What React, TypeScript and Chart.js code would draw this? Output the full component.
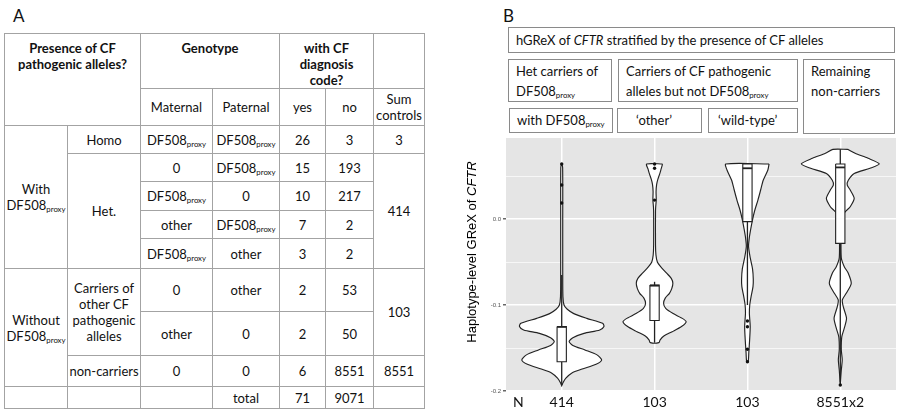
import React, { useEffect, useRef } from "react";
import { Chart, registerables } from "chart.js";
Chart.register(...registerables);

// ---------- data ----------
const groupLabels = ["414", "103", "103", "8551x2"];
const groupPositions = [1, 2, 3, 4];
const yTickValues = [-0.2, -0.15, -0.1, -0.05, 0, 0.05];
const yMajorTicks = [-0.2, -0.1, 0];

// violin outlines: y values and half-widths (in category units)
const violin1Y = [0.065, 0.06, 0.0, -0.06, -0.09, -0.1, -0.105, -0.11, -0.1155, -0.1213, -0.125, -0.129, -0.133, -0.138, -0.1425, -0.147, -0.1523, -0.158, -0.164, -0.169, -0.1745, -0.179, -0.185, -0.19, -0.194];
const violin1W = [0.0, 0.01, 0.011, 0.011, 0.013, 0.025, 0.06, 0.13, 0.27, 0.44, 0.455, 0.41, 0.24, 0.12, 0.08, 0.12, 0.25, 0.38, 0.43, 0.37, 0.22, 0.11, 0.045, 0.015, 0.0];

const violin2Y = [0.064, 0.058, 0.053, 0.046, 0.04, 0.032, 0.022, 0.014, 0.008, -0.03, -0.042, -0.05, -0.0554, -0.063, -0.069, -0.0748, -0.081, -0.0864, -0.092, -0.098, -0.104, -0.11, -0.115, -0.1194, -0.125, -0.131, -0.136, -0.1405, -0.1438];
const violin2W = [0.086, 0.07, 0.057, 0.035, 0.022, 0.016, 0.018, 0.012, 0.01, 0.01, 0.015, 0.03, 0.065, 0.13, 0.18, 0.197, 0.185, 0.16, 0.115, 0.097, 0.12, 0.2, 0.29, 0.34, 0.29, 0.19, 0.1, 0.06, 0.046];

const violin3Y = [0.064, 0.057, 0.045, 0.034, 0.022, 0.0105, -0.0012, -0.0115, -0.022, -0.032, -0.045, -0.058, -0.07, -0.0787, -0.09, -0.1, -0.1097, -0.125, -0.14, -0.155, -0.166];
const violin3W = [0.233, 0.22, 0.17, 0.143, 0.113, 0.08, 0.054, 0.036, 0.02, 0.012, 0.03, 0.055, 0.063, 0.06, 0.04, 0.025, 0.021, 0.03, 0.024, 0.015, 0.008];

const violin4Y = [0.081, 0.0764, 0.0706, 0.064, 0.059, 0.053, 0.045, 0.0395, 0.0337, 0.024, 0.0143, 0.0085, 0.0027, -0.01, -0.045, -0.0554, -0.063, -0.075, -0.0864, -0.094, -0.102, -0.1155, -0.127, -0.137, -0.152, -0.164, -0.1756, -0.193];
const violin4W = [0.08, 0.16, 0.3, 0.42, 0.32, 0.15, 0.086, 0.075, 0.107, 0.15, 0.107, 0.054, 0.022, 0.011, 0.011, 0.043, 0.086, 0.118, 0.064, 0.022, 0.032, 0.067, 0.043, 0.016, 0.011, 0.021, 0.011, 0.0];

// box plot statistics
const boxQ1 = [-0.166, -0.118, -0.003, -0.0283];
const boxMedian = [-0.1255, -0.0775, 0.059, 0.06];
const boxQ3 = [-0.125, -0.0767, 0.064, 0.064];
const whiskerLow = [-0.193, -0.1438, -0.1, -0.19];
const whiskerHigh = [-0.065, -0.073, 0.064, 0.081];
const outliers1 = [0.064, 0.0395, 0.0186];
const outliers2 = [0.064, 0.059, 0.022];
const outliers3 = [-0.1186, -0.1252, -0.1515, -0.166];
const outliers4 = [-0.193];

const violinYs = [violin1Y, violin2Y, violin3Y, violin4Y];
const violinWs = [violin1W, violin2W, violin3W, violin4W];
const outlierSets = [outliers1, outliers2, outliers3, outliers4];
const boxHalfWidth = 0.05;

// ---------- chart ----------
function violinPolygon(c: number, ys: number[], ws: number[]) {
  const right = ys.map((y, i) => ({ x: c + ws[i], y }));
  const left = ys.map((y, i) => ({ x: c - ws[i], y })).reverse();
  return [...right, ...left, right[0]];
}

const bgPlugin = {
  id: "panelBg",
  beforeDraw(chart: any) {
    const { ctx, chartArea } = chart;
    ctx.save();
    ctx.fillStyle = "#e5e5e5";
    ctx.fillRect(chartArea.left, chartArea.top, chartArea.right - chartArea.left, chartArea.bottom - chartArea.top);
    ctx.restore();
  },
};

const isMajor = (v: number) => yMajorTicks.some((m) => Math.abs(m - v) < 1e-9);

function ViolinChart() {
  const ref = useRef<HTMLCanvasElement | null>(null);
  useEffect(() => {
    if (!ref.current) return;
    const stroke = "#222222";
    const datasets: any[] = [];
    groupPositions.forEach((c, i) => {
      datasets.push({
        data: violinPolygon(c, violinYs[i], violinWs[i]),
        showLine: true, pointRadius: 0, borderColor: stroke, borderWidth: 1.15,
        backgroundColor: "#ffffff", fill: "shape", tension: 0.25, order: 5,
      });
    });
    groupPositions.forEach((c, i) => {
      datasets.push({
        data: [{ x: c, y: boxQ3[i] }, { x: c, y: whiskerHigh[i] }],
        showLine: true, pointRadius: 0, borderColor: stroke, borderWidth: 1.3, fill: false, order: 4,
      });
      datasets.push({
        data: [{ x: c, y: boxQ1[i] }, { x: c, y: whiskerLow[i] }],
        showLine: true, pointRadius: 0, borderColor: stroke, borderWidth: 1.3, fill: false, order: 4,
      });
    });
    groupPositions.forEach((c, i) => {
      const w = boxHalfWidth;
      datasets.push({
        data: [
          { x: c - w, y: boxQ3[i] }, { x: c + w, y: boxQ3[i] },
          { x: c + w, y: boxQ1[i] }, { x: c - w, y: boxQ1[i] }, { x: c - w, y: boxQ3[i] },
        ],
        showLine: true, pointRadius: 0, borderColor: stroke, borderWidth: 1.1,
        backgroundColor: "#ffffff", fill: "shape", tension: 0, order: 3,
      });
      datasets.push({
        data: [{ x: c - w, y: boxMedian[i] }, { x: c + w, y: boxMedian[i] }],
        showLine: true, pointRadius: 0, borderColor: stroke, borderWidth: 1.8, fill: false, order: 2,
      });
    });
    const pts: any[] = [];
    groupPositions.forEach((c, i) => outlierSets[i].forEach((y) => pts.push({ x: c, y })));
    datasets.push({
      data: pts, showLine: false, pointRadius: 1.7, pointBackgroundColor: "#111",
      pointBorderWidth: 0, order: 1,
    });

    const chart = new Chart(ref.current, {
      type: "scatter",
      data: { datasets },
      plugins: [bgPlugin],
      options: {
        animation: false,
        responsive: false,
        devicePixelRatio: 1,
        layout: { padding: { top: 10, right: 3, left: 0, bottom: 0 } },
        plugins: { legend: { display: false }, tooltip: { enabled: false } },
        scales: {
          x: {
            type: "linear", min: 0.4, max: 4.6,
            afterBuildTicks: (axis: any) => { axis.ticks = groupPositions.map((v) => ({ value: v })); },
            afterFit: (axis: any) => { axis.height = 22; },
            ticks: {
              callback: (v: any) => groupLabels[Math.round(v) - 1] ?? "",
              font: { family: "Lato", size: 14 }, color: "#111", padding: 3, maxRotation: 0,
            },
            grid: { color: "#ffffff", lineWidth: 1.5, drawTicks: false },
            border: { display: false },
          },
          y: {
            type: "linear", min: -0.2, max: 0.0942,
            afterBuildTicks: (axis: any) => { axis.ticks = yTickValues.map((v) => ({ value: v })); },
            afterFit: (axis: any) => { axis.width = 66; },
            ticks: {
              callback: (v: any) => (isMajor(Number(v)) ? Number(v).toFixed(1) : ""),
              font: { family: "Liberation Sans", size: 6 }, color: "#555", padding: 2,
            },
            grid: {
              color: "#ffffff",
              lineWidth: (ctx: any) => (isMajor(ctx.tick?.value) ? 1.5 : 0.7),
              tickLength: 3,
              tickColor: (ctx: any) => (isMajor(ctx.tick?.value) ? "#666" : "rgba(0,0,0,0)"),
            },
            border: { display: false },
          },
        },
      } as any,
    });
    return () => chart.destroy();
  }, []);
  return <canvas ref={ref} width={460} height={285} style={{ position: "absolute", left: 440, top: 128, width: 460, height: 285 }} />;
}

// ---------- table ----------
const Sub = () => <sub style={{ fontSize: "0.6em", lineHeight: 0, verticalAlign: "-2px" }}>proxy</sub>;
const DF = () => <span>DF508<Sub /></span>;

const tdBase: React.CSSProperties = {
  border: "1px solid #a3a3a3", textAlign: "center", verticalAlign: "middle",
  padding: 0, fontSize: 13, lineHeight: "16px", color: "#111",
};
const thTop: React.CSSProperties = { ...tdBase, verticalAlign: "top", paddingTop: 6, fontWeight: 700 };

function Table() {
  const colW = [63, 73, 72, 67, 46, 48, 51];
  const rowH = [55, 37, 28, 28, 29, 28, 30, 43, 44, 31, 22];
  return (
    <table style={{ position: "absolute", left: 4, top: 33, width: 420, borderCollapse: "collapse", tableLayout: "fixed", fontFamily: "Lato" }}>
      <colgroup>{colW.map((w, i) => <col key={i} style={{ width: w }} />)}</colgroup>
      <tbody>
        <tr style={{ height: rowH[0] }}>
          <td style={thTop} colSpan={2} rowSpan={2}>Presence of CF<br />pathogenic alleles?</td>
          <td style={thTop} colSpan={2}>Genotype</td>
          <td style={thTop} colSpan={2}>with CF<br />diagnosis<br />code?</td>
          <td style={tdBase}></td>
        </tr>
        <tr style={{ height: rowH[1] }}>
          <td style={tdBase}>Maternal</td><td style={tdBase}>Paternal</td>
          <td style={tdBase}>yes</td><td style={tdBase}>no</td>
          <td style={tdBase}>Sum<br />controls</td>
        </tr>
        <tr style={{ height: rowH[2] }}>
          <td style={tdBase} rowSpan={5}>With<br /><DF /></td>
          <td style={tdBase}>Homo</td>
          <td style={tdBase}><DF /></td><td style={tdBase}><DF /></td>
          <td style={tdBase}>26</td><td style={tdBase}>3</td><td style={tdBase}>3</td>
        </tr>
        <tr style={{ height: rowH[3] }}>
          <td style={tdBase} rowSpan={4}>Het.</td>
          <td style={tdBase}>0</td><td style={tdBase}><DF /></td>
          <td style={tdBase}>15</td><td style={tdBase}>193</td>
          <td style={tdBase} rowSpan={4}>414</td>
        </tr>
        <tr style={{ height: rowH[4] }}>
          <td style={tdBase}><DF /></td><td style={tdBase}>0</td>
          <td style={tdBase}>10</td><td style={tdBase}>217</td>
        </tr>
        <tr style={{ height: rowH[5] }}>
          <td style={tdBase}>other</td><td style={tdBase}><DF /></td>
          <td style={tdBase}>7</td><td style={tdBase}>2</td>
        </tr>
        <tr style={{ height: rowH[6] }}>
          <td style={tdBase}><DF /></td><td style={tdBase}>other</td>
          <td style={tdBase}>3</td><td style={tdBase}>2</td>
        </tr>
        <tr style={{ height: rowH[7] }}>
          <td style={tdBase} rowSpan={3}>Without<br /><DF /></td>
          <td style={tdBase} rowSpan={2}>Carriers of<br />other CF<br />pathogenic<br />alleles</td>
          <td style={tdBase}>0</td><td style={tdBase}>other</td>
          <td style={tdBase}>2</td><td style={tdBase}>53</td>
          <td style={tdBase} rowSpan={2}>103</td>
        </tr>
        <tr style={{ height: rowH[8] }}>
          <td style={tdBase}>other</td><td style={tdBase}>0</td>
          <td style={tdBase}>2</td><td style={tdBase}>50</td>
        </tr>
        <tr style={{ height: rowH[9] }}>
          <td style={tdBase}>non-carriers</td>
          <td style={tdBase}>0</td><td style={tdBase}>0</td>
          <td style={tdBase}>6</td><td style={tdBase}>8551</td><td style={tdBase}>8551</td>
        </tr>
        <tr style={{ height: rowH[10] }}>
          <td style={tdBase}></td><td style={tdBase}></td><td style={tdBase}></td>
          <td style={tdBase}>total</td><td style={tdBase}>71</td><td style={tdBase}>9071</td>
          <td style={tdBase}></td>
        </tr>
      </tbody>
    </table>
  );
}

const boxStyle = (left: number, top: number, width: number, height: number, extra: React.CSSProperties = {}): React.CSSProperties => ({
  position: "absolute", left, top, width, height, boxSizing: "border-box",
  border: "1px solid #8a8a8a", fontSize: 13, lineHeight: "20px", paddingLeft: 7, color: "#111",
  whiteSpace: "nowrap", ...extra,
});

export default function App() {
  return (
    <div style={{ position: "fixed", left: 0, top: 0, width: 900, height: 413, background: "#fff", fontFamily: "Lato", overflow: "hidden" }}>
      <div style={{ position: "absolute", left: 13, top: 5, fontSize: 17, color: "#111" }}>A</div>
      <div style={{ position: "absolute", left: 503, top: 5, fontSize: 17, color: "#111" }}>B</div>
      <Table />
      <div style={boxStyle(508, 27, 387, 26, { lineHeight: "24px" })}>hGReX of <i>CFTR</i> stratified by the presence of CF alleles</div>
      <div style={boxStyle(508, 59, 104, 43, { paddingTop: 1 })}>Het carriers of<br /><DF /></div>
      <div style={boxStyle(618, 59, 180, 43, { paddingTop: 1 })}>Carriers of CF pathogenic<br />alleles but not <DF /></div>
      <div style={boxStyle(803, 59, 92, 75, { paddingTop: 1 })}>Remaining<br />non-carriers</div>
      <div style={boxStyle(509, 108, 104, 25, { lineHeight: "23px" })}>with <DF /></div>
      <div style={boxStyle(617, 108, 85, 25, { lineHeight: "23px", paddingLeft: 18 })}>‘other’</div>
      <div style={boxStyle(708, 108, 90, 25, { lineHeight: "23px", paddingLeft: 9 })}>‘wild-type’</div>
      <ViolinChart />
      <div style={{ position: "absolute", left: 372, top: 244, width: 200, height: 16, lineHeight: "16px", textAlign: "center", transform: "rotate(-90deg)", transformOrigin: "100px 8px", whiteSpace: "nowrap", fontFamily: "Liberation Sans", fontWeight: 400, fontSize: 13, color: "#000" }}>
        Haplotype-level GReX of <i>CFTR</i>
      </div>
      <div style={{ position: "absolute", left: 513, top: 393, fontSize: 14, color: "#111" }}>N</div>
    </div>
  );
}
